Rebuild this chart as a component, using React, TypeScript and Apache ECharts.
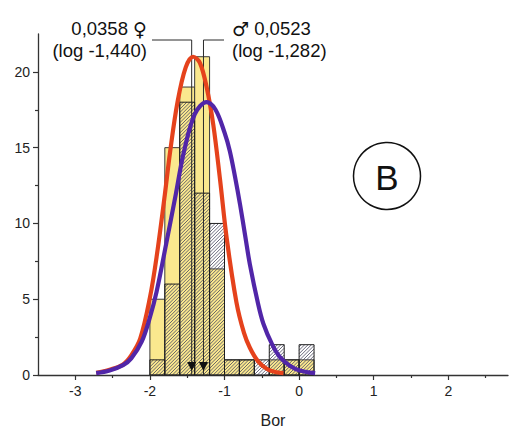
import React, { useEffect, useRef } from "react";
import * as echarts from "echarts";

// ---- data ----
const binStarts = [-2.0, -1.8, -1.6, -1.4, -1.2, -1.0, -0.8, -0.6, -0.4, -0.2, 0.0];
const binWidth = 0.2;
const femaleCounts = [5, 15, 19, 21, 7, 1, 1, 0, 1, 1, 1];
const maleCounts = [1, 6, 18, 12, 10, 1, 1, 1, 2, 1, 2];

const femaleCurve = [
  [-2.72, 0.15], [-2.54, 0.35], [-2.36, 0.7], [-2.25, 1.3], [-2.13, 2.4], [-2.0, 5.1],
  [-1.91, 7.8], [-1.8, 11.9], [-1.73, 14.7], [-1.63, 18.0], [-1.52, 20.3], [-1.42, 21.0],
  [-1.33, 20.6], [-1.24, 19.0], [-1.15, 16.5], [-1.06, 12.9], [-0.97, 9.0], [-0.84, 4.8],
  [-0.74, 2.8], [-0.66, 1.8], [-0.55, 0.9], [-0.43, 0.4], [-0.3, 0.18], [-0.21, 0.12],
];
const maleCurve = [
  [-2.72, 0.12], [-2.54, 0.3], [-2.36, 0.65], [-2.25, 1.1], [-2.11, 2.2], [-2.0, 3.8],
  [-1.91, 5.5], [-1.78, 8.7], [-1.65, 12.0], [-1.55, 14.6], [-1.4, 17.2], [-1.24, 18.0],
  [-1.12, 17.5], [-1.0, 16.0], [-0.93, 14.8], [-0.86, 13.1], [-0.79, 11.2], [-0.72, 9.1],
  [-0.66, 7.3], [-0.55, 4.7], [-0.48, 3.4], [-0.36, 2.0], [-0.26, 1.2], [-0.12, 0.6],
  [0.01, 0.3], [0.215, 0.12],
];

const femaleMean = -1.44;
const maleMean = -1.282;
const femaleLabel = ["{n|0,0358 }{s|\u2640}", "(log -1,440)"];
const maleLabel = ["{s|\u2642}{n| 0,0523}", "(log -1,282)"];
const panelLetter = "B";
const xName = "Bor";

const xTickValues = [-3, -2, -1, 0, 1, 2];
const xMinorValues = [-2.5, -1.5, -0.5, 0.5, 1.5, 2.5];
const yTickValues = [0, 5, 10, 15, 20];
const yMinorValues = [2.5, 7.5, 12.5, 17.5];

const FONT = "'Liberation Sans', Arial, 'DejaVu Sans', sans-serif";

export default function App() {
  const ref = useRef<HTMLDivElement>(null);

  useEffect(() => {
    if (!ref.current) return;
    const chart = echarts.init(ref.current, undefined, { renderer: "svg" });

    const femaleData = binStarts.map((s, i) => [s, femaleCounts[i]]);
    const maleData = binStarts.map((s, i) => [s, maleCounts[i]]);

    const yellowBars = (params: any, api: any) => {
      const s = api.value(0);
      const h = api.value(1);
      if (!h) return null;
      const p0 = api.coord([s, h]);
      const p1 = api.coord([s + binWidth, 0]);
      return {
        type: "rect",
        shape: { x: p0[0], y: p0[1], width: p1[0] - p0[0], height: p1[1] - p0[1] },
        style: { fill: "#FAE88E", stroke: "#3a3a3a", lineWidth: 1 },
      };
    };

    const hatchBars = (params: any, api: any) => {
      const s = api.value(0);
      const h = api.value(1);
      if (!h) return null;
      const p0 = api.coord([s, h]);
      const p1 = api.coord([s + binWidth, 0]);
      const x0 = p0[0], y0 = p0[1], x1 = p1[0], y1 = p1[1];
      const step = 3.4;
      const children: any[] = [];
      const cStart = Math.ceil((x0 + y0) / step) * step;
      for (let c = cStart; c <= x1 + y1; c += step) {
        const xa = Math.max(x0, c - y1);
        const xb = Math.min(x1, c - y0);
        if (xb > xa) {
          children.push({
            type: "line",
            shape: { x1: xa, y1: c - xa, x2: xb, y2: c - xb },
            style: { stroke: "#45455e", lineWidth: 0.8 },
          });
        }
      }
      children.push({
        type: "rect",
        shape: { x: x0, y: y0, width: x1 - x0, height: y1 - y0 },
        style: { fill: "none", stroke: "#1e1e1e", lineWidth: 1 },
      });
      return { type: "group", children };
    };

    const leaders = (params: any, api: any) => {
      const m = api.value(0);
      const base = api.coord([m, 0]);
      const x = base[0];
      const yb = base[1];
      const topY = 40;
      const tailX = params.dataIndex === 0 ? 152 : 224;
      return {
        type: "group",
        children: [
          {
            type: "polyline",
            shape: { points: [[tailX, topY], [x, topY], [x, yb]] },
            style: { stroke: "#2a2a2a", lineWidth: 1, fill: "none" },
          },
          {
            type: "polygon",
            shape: { points: [[x - 4.5, yb - 13], [x + 4.5, yb - 13], [x, yb - 4]] },
            style: { fill: "#111" },
          },
        ],
      };
    };

    const rich = {
      n: { fontFamily: FONT, fontSize: 18.5, lineHeight: 18, fill: "#111" },
      s: { fontFamily: "'DejaVu Sans', sans-serif", fontSize: 19, lineHeight: 18, fill: "#111" },
    };

    const commonX = { type: "value", min: -3.5, max: 2.8, splitLine: { show: false } };
    const commonY = { type: "value", min: 0, max: 22.5, splitLine: { show: false } };

    const textStyle = (text: string, align: string, withRich: boolean) => ({
      text,
      ...(withRich ? { rich } : {}),
      fontFamily: FONT,
      fontSize: 18.5,
      lineHeight: 18,
      fill: "#111",
      align,
      verticalAlign: "middle",
    });

    chart.setOption({
      animation: false,
      grid: { left: 38, right: 2, top: 34, bottom: 61 },
      xAxis: [
        {
          ...commonX,
          position: "bottom",
          name: xName,
          nameLocation: "middle",
          nameGap: 37,
          nameTextStyle: { fontFamily: FONT, fontSize: 16, color: "#222" },
          axisLine: { show: true, onZero: false, lineStyle: { color: "#333", width: 1.3 } },
          axisTick: { show: true, customValues: xTickValues, length: 5, lineStyle: { color: "#333", width: 1.2 } },
          axisLabel: { customValues: xTickValues, margin: 9, fontFamily: FONT, fontSize: 14, color: "#222" },
        },
        {
          ...commonX,
          position: "bottom",
          axisLine: { show: false, onZero: false },
          axisTick: { show: true, customValues: xMinorValues, length: 3, lineStyle: { color: "#333", width: 1.2 } },
          axisLabel: { show: false },
        },
      ],
      yAxis: [
        {
          ...commonY,
          position: "left",
          axisLine: { show: true, onZero: false, lineStyle: { color: "#333", width: 1.3 } },
          axisTick: { show: true, customValues: yTickValues, length: 5, lineStyle: { color: "#333", width: 1.2 } },
          axisLabel: { customValues: yTickValues, margin: 8, fontFamily: FONT, fontSize: 14, color: "#222" },
        },
        {
          ...commonY,
          position: "left",
          axisLine: { show: false, onZero: false },
          axisTick: { show: true, customValues: yMinorValues, length: 3, lineStyle: { color: "#333", width: 1.2 } },
          axisLabel: { show: false },
        },
      ],
      series: [
        { type: "custom", name: "female", renderItem: yellowBars, data: femaleData, encode: { x: 0, y: 1 }, z: 1 },
        { type: "custom", name: "male", renderItem: hatchBars, data: maleData, encode: { x: 0, y: 1 }, z: 2 },
        {
          type: "custom",
          name: "means",
          renderItem: leaders,
          data: [[femaleMean, 0], [maleMean, 0]],
          encode: { x: 0, y: 1 },
          clip: false,
          z: 3,
        },
        {
          type: "line",
          name: "female fit",
          data: femaleCurve,
          smooth: 0.35,
          showSymbol: false,
          symbol: "none",
          lineStyle: { color: "#E5421C", width: 4.2 },
          z: 4,
        },
        {
          type: "line",
          name: "male fit",
          data: maleCurve,
          smooth: 0.35,
          showSymbol: false,
          symbol: "none",
          lineStyle: { color: "#5126A8", width: 4.2 },
          z: 5,
        },
      ],
      graphic: [
        { type: "text", x: 147, y: 28.5, style: textStyle(femaleLabel[0], "right", true) },
        { type: "text", x: 147, y: 50.5, style: textStyle(femaleLabel[1], "right", false) },
        { type: "text", x: 232, y: 28.5, style: textStyle(maleLabel[0], "left", true) },
        { type: "text", x: 232, y: 50.5, style: textStyle(maleLabel[1], "left", false) },
        { type: "circle", shape: { cx: 387, cy: 176, r: 33.5 }, style: { fill: "#fff", stroke: "#111", lineWidth: 1.5 } },
        { type: "text", x: 387, y: 177, style: { text: panelLetter, fontFamily: FONT, fontSize: 35, fill: "#111", align: "center", verticalAlign: "middle" } },
      ],
    });

    return () => chart.dispose();
  }, []);

  return <div ref={ref} style={{ position: "absolute", left: 0, top: 0, width: 510, height: 436, background: "#fff" }} />;
}
